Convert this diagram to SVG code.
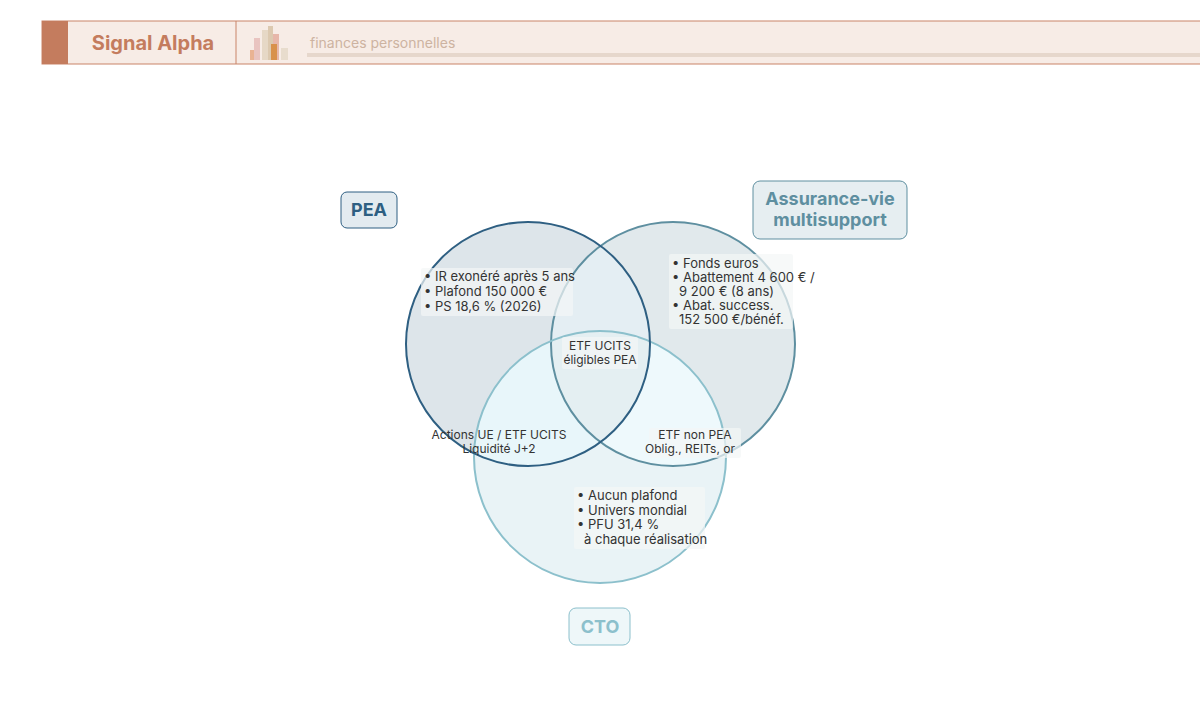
<svg xmlns="http://www.w3.org/2000/svg" width="1200" height="721" viewBox="0 0 1200 721">
<style>
text{font-family:Inter,"Liberation Sans",sans-serif}
.t{font-size:13px;fill:#333}
.c{font-size:12px;fill:#333;text-anchor:middle}
.bg{fill:#f4f6f7;opacity:.7}
</style>
<defs>
<clipPath id="cpPea"><circle cx="528" cy="344" r="122"/></clipPath>
<clipPath id="cpAv"><circle cx="673" cy="344" r="122"/></clipPath>
</defs>
<rect width="1200" height="721" fill="#fff"/>
<g id="header">
<rect x="42" y="21" width="1170" height="43" fill="#f7ece6" stroke="#c98469" stroke-width="1"/>
<rect x="42" y="21" width="26" height="43" fill="#c47c5e"/>
<line x1="236" y1="21" x2="236" y2="64" stroke="#c98469"/>
<text x="153" y="50" font-size="20" font-weight="700" fill="#c47c5e" text-anchor="middle" font-family="Lato,sans-serif">Signal Alpha</text>
<rect x="250" y="50" width="6" height="10" fill="#e9b393"/>
<rect x="254" y="38" width="6" height="22" fill="#e9c4c0"/>
<rect x="262" y="30" width="6" height="30" fill="#e6d8c6"/>
<rect x="268" y="26" width="5" height="34" fill="#dcc9b0"/>
<rect x="273" y="34" width="6" height="26" fill="#e7b7aa"/>
<rect x="271" y="44" width="6" height="16" fill="#d8914c"/>
<rect x="281" y="48" width="7" height="12" fill="#e8dccd"/>
<text x="310" y="48" font-size="14" fill="#cdb3a1" font-family="Lato,sans-serif">finances personnelles</text>
<rect x="307" y="53" width="893" height="4" fill="#e6d7cc"/>
</g>
<g id="circles">
<circle cx="528" cy="344" r="122" fill="#dde5ea"/>
<circle cx="673" cy="344" r="122" fill="#e1e9ec"/>
<circle cx="600" cy="457" r="126" fill="#e9f3f6"/>
<circle cx="673" cy="344" r="122" fill="#e4eef3" clip-path="url(#cpPea)"/>
<g clip-path="url(#cpPea)"><circle cx="600" cy="457" r="126" fill="#e8f6fa"/></g>
<g clip-path="url(#cpAv)"><circle cx="600" cy="457" r="126" fill="#eef9fc"/></g>
<g clip-path="url(#cpPea)"><g clip-path="url(#cpAv)"><circle cx="600" cy="457" r="126" fill="#e4eff2"/></g></g>
<circle id="av" cx="673" cy="344" r="122" fill="none" stroke="#5e8fa0" stroke-width="2"/>
<circle id="cto" cx="600" cy="457" r="126" fill="none" stroke="#8cc0cc" stroke-width="2"/>
<circle id="pea" cx="528" cy="344" r="122" fill="none" stroke="#2e5f82" stroke-width="2"/>
</g>
<g id="labels">
<rect x="341" y="192" width="56" height="36" rx="6" fill="#e3ebf0" stroke="#2e5f82"/>
<text x="369" y="216" font-size="18" font-weight="700" fill="#2e5f82" text-anchor="middle">PEA</text>
<rect x="753" y="181" width="154" height="58" rx="7" fill="#e6eef1" stroke="#5e8fa0"/>
<text x="830" y="205" font-size="18" font-weight="700" fill="#5e8fa0" text-anchor="middle">Assurance-vie</text>
<text x="830" y="226" font-size="18" font-weight="700" fill="#5e8fa0" text-anchor="middle">multisupport</text>
<rect x="569" y="608" width="61" height="37" rx="7" fill="#eef7f9" stroke="#8cc0cc"/>
<text x="600" y="633" font-size="18" font-weight="700" fill="#8cc0cc" text-anchor="middle">CTO</text>
</g>
<g id="texts">
<rect class="bg" x="421" y="268" width="152" height="48" rx="2"/>
<text class="t" x="424" y="281">• IR exonéré après 5 ans</text>
<text class="t" x="424" y="296">• Plafond 150 000 €</text>
<text class="t" x="424" y="311">• PS 18,6 % (2026)</text>
<rect class="bg" x="669" y="254" width="124" height="75" rx="2"/>
<text class="t" x="672" y="268">• Fonds euros</text>
<text class="t" x="672" y="282">• Abattement 4 600 € /</text>
<text class="t" x="679" y="296">9 200 € (8 ans)</text>
<text class="t" x="672" y="310">• Abat. success.</text>
<text class="t" x="679" y="324">152 500 €/bénéf.</text>
<rect class="bg" x="562" y="337" width="76" height="32" rx="2"/>
<text class="c" x="600" y="350">ETF UCITS</text>
<text class="c" x="600" y="364">éligibles PEA</text>
<text class="c" x="499" y="439">Actions UE / ETF UCITS</text>
<text class="c" x="499" y="453">Liquidité J+2</text>
<rect class="bg" x="649" y="428" width="92" height="30" rx="2"/>
<text class="c" x="695" y="439">ETF non PEA</text>
<text class="c" x="690" y="453">Oblig., REITs, or</text>
<rect class="bg" x="574" y="487" width="131" height="62" rx="2"/>
<text class="t" x="577" y="500">• Aucun plafond</text>
<text class="t" x="577" y="515">• Univers mondial</text>
<text class="t" x="577" y="529">• PFU 31,4 %</text>
<text class="t" x="584" y="544">à chaque réalisation</text>
</g>
</svg>
